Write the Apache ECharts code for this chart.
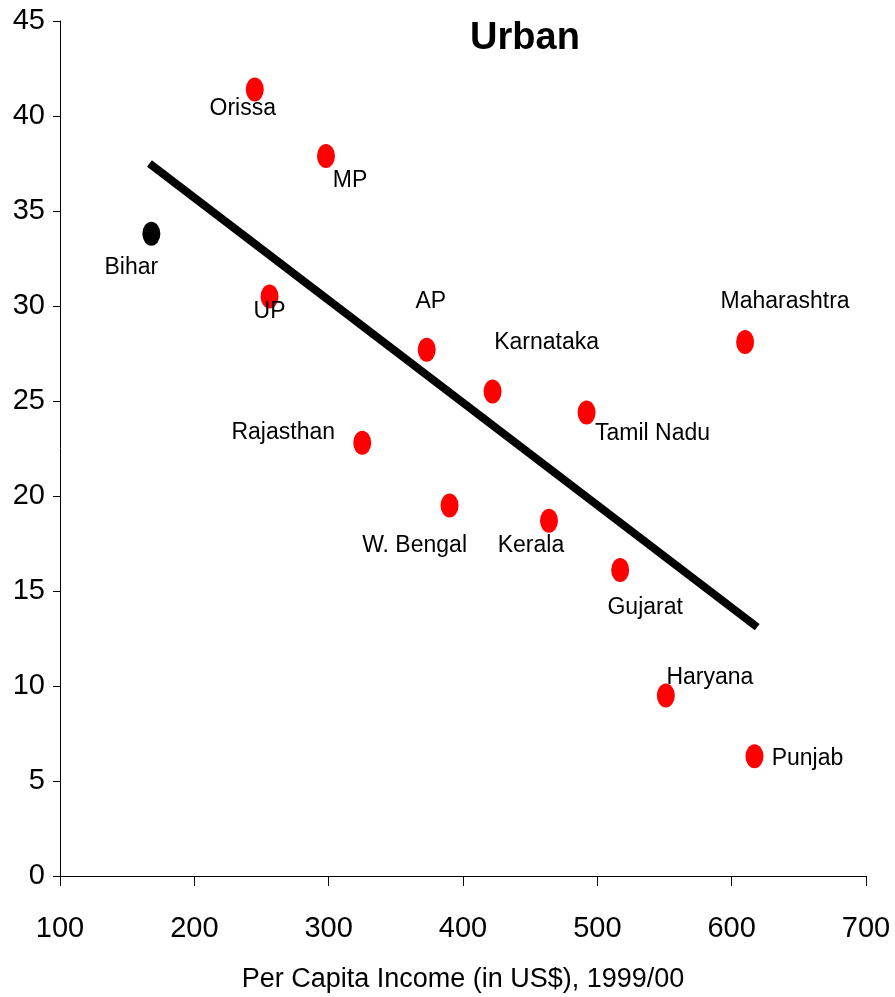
<!DOCTYPE html>
<html lang="en">
  <head>
    <meta charset="UTF-8" />
    <title>Urban</title>
    <script src="https://cdn.jsdelivr.net/npm/echarts@6/dist/echarts.min.js"></script>
    <style>
      html, body { margin: 0; padding: 0; background: #fff; }
    </style>
  </head>

  <body>
    <div id="main" style="width: 895px; height: 997px"></div>

    <script>
      // states, per capita income (US$) and urban poverty (%)
      var states = ["Orissa", "MP", "Bihar", "UP", "AP", "Karnataka", "Tamil Nadu", "Maharashtra",
        "Rajasthan", "W. Bengal", "Kerala", "Gujarat", "Haryana", "Punjab"];
      var income = [245, 298, 168, 256, 373, 422, 492, 610, 325, 390, 464, 517, 551, 617];
      var poverty = [41.4, 37.9, 33.8, 30.5, 27.7, 25.5, 24.4, 28.1, 22.8, 19.5, 18.7, 16.1, 9.5, 6.3];
      // fitted trend line end points
      var trendX = [166.6, 619];
      var trendY = [37.5, 13.1];
      var xTicks = [100, 200, 300, 400, 500, 600, 700];
      var yTicks = [0, 5, 10, 15, 20, 25, 30, 35, 40, 45];

      // label offsets around each dot (px)
      var labelOffsets = {
        "Orissa": [-12, 19], "MP": [24, 25], "Bihar": [-20, 34], "UP": [0, 15],
        "AP": [4, -48], "Karnataka": [54, -49], "Tamil Nadu": [66, 21],
        "Maharashtra": [40, -40], "Rajasthan": [-79, -10], "W. Bengal": [-35, 40],
        "Kerala": [-18, 25], "Gujarat": [25, 38], "Haryana": [44, -18], "Punjab": [53, 2]
      };

      var font = "'Liberation Sans', Arial, sans-serif";

      var points = states.map(function (s, i) {
        return {
          name: s,
          value: [income[i], poverty[i]],
          itemStyle: { color: s === "Bihar" ? "#000000" : "#ff0000", opacity: 1 },
          label: { offset: labelOffsets[s] }
        };
      });

      var myChart = echarts.init(document.getElementById("main"));

      var option = {
        backgroundColor: "#ffffff",
        animation: false,
        title: {
          text: "Urban",
          left: 520,
          top: 15,
          textAlign: "center",
          textStyle: { fontFamily: font, fontSize: 38, fontWeight: "bold", color: "#000" }
        },
        grid: { left: 60, right: 29, top: 21, bottom: 121, containLabel: false, outerBoundsMode: "none" },
        xAxis: {
          type: "value",
          min: xTicks[0],
          max: xTicks[xTicks.length - 1],
          interval: 100,
          name: "Per Capita Income (in US$), 1999/00",
          nameLocation: "middle",
          nameGap: 90,
          nameTextStyle: { fontFamily: font, fontSize: 27, color: "#000" },
          axisLine: { show: true, lineStyle: { color: "#000", width: 1 } },
          axisTick: { show: true, length: 10, lineStyle: { color: "#000" } },
          axisLabel: { margin: 38, fontFamily: font, fontSize: 29, color: "#000" },
          splitLine: { show: false }
        },
        yAxis: {
          type: "value",
          min: yTicks[0],
          max: yTicks[yTicks.length - 1],
          interval: 5,
          axisLine: { show: true, onZero: false, lineStyle: { color: "#000", width: 1 } },
          axisTick: { show: true, length: 7, lineStyle: { color: "#000" } },
          axisLabel: { margin: 15, fontFamily: font, fontSize: 29, color: "#000" },
          splitLine: { show: false }
        },
        series: [
          {
            type: "line",
            data: [[trendX[0], trendY[0]], [trendX[1], trendY[1]]],
            symbol: "none",
            lineStyle: { color: "#000", width: 8 },
            silent: true
          },
          {
            type: "scatter",
            data: points,
            symbol: "circle",
            symbolSize: [18, 24],
            label: {
              show: true,
              position: "inside",
              formatter: "{b}",
              fontFamily: font,
              fontSize: 23,
              color: "#000"
            }
          }
        ]
      };
      myChart.setOption(option);
    </script>
  </body>
</html>
